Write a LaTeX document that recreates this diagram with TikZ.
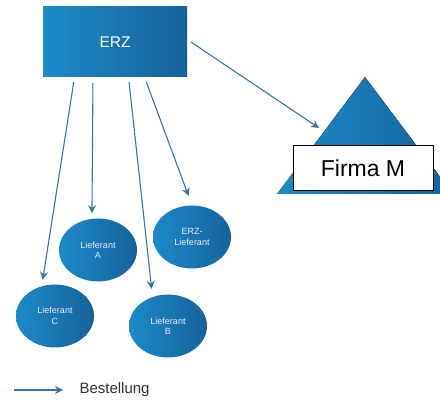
\documentclass[tikz,border=0pt]{standalone}
\usepackage{fontspec}
\setmainfont{Liberation Sans}
\usetikzlibrary{shapes.geometric,arrows.meta}
\definecolor{erzlight}{RGB}{28,138,200}
\definecolor{erzdark}{RGB}{22,98,155}
\definecolor{pfeil}{RGB}{52,118,170}
\definecolor{schrift}{RGB}{50,50,50}
\tikzset{
    blau/.style={left color=erzlight, right color=erzdark, draw=none},
    lieferant/.style={blau, ellipse, minimum width=78pt, minimum height=63pt,
        inner sep=0pt, align=center, text=white!92!blue,
        font=\fontsize{9}{10.5}\selectfont},
    bestellung/.style={draw=pfeil, line width=1.1pt,
        -{Stealth[length=8pt,width=8pt]}}
}
\begin{document}
\begin{tikzpicture}[x=1pt,y=-1pt]
            \useasboundingbox (0,0) rectangle (440,403);

            \node[blau, minimum width=144pt, minimum height=70pt, text=white,
                font=\fontsize{15.5}{18}\selectfont] (erz) at (115,42) {ERZ};

            \fill[blau] (277,194) -- (365,77) -- (453,194) -- cycle;
            \coordinate (dreieck) at (319,128);
            \node[draw=black, fill=white, line width=1pt, minimum width=140pt,
                minimum height=45pt, font=\fontsize{23}{26}\selectfont]
                (firma) at (363,168.5) {Firma M};

            \begin{scope}[every node/.style={lieferant}]
                \node (lfa) at (98,250) {Lieferant\\A};
                \node (lferz) at (192,237) {ERZ-\\Lieferant};
                \node (lfc) at (55,316) {Lieferant\\C};
                \node (lfb) at (168,326) {Lieferant\\B};
            \end{scope}

            \begin{scope}
                \path (erz.-139) edge[bestellung, shorten <=5pt, shorten >=6.5pt] (lfc.114);
                \path (erz.-122) edge[bestellung, shorten <=6pt, shorten >=5.5pt] (lfa.101);
                \path (erz.-69) edge[bestellung, shorten <=5pt, shorten >=8pt] (lfb.118);
                \path (erz.-50) edge[bestellung, shorten <=5pt, shorten >=10pt] (lferz.90);
                \path (erz.2) edge[bestellung, shorten <=4.5pt] (dreieck);
            \end{scope}

            \coordinate (legstart) at (14,390);
            \node[text=schrift, font=\fontsize{15}{18}\selectfont, anchor=west]
                (legende) at (76,390) {Bestellung};
            \draw[bestellung, shorten >=13pt] (legstart) -- (legende.west);
\end{tikzpicture}
\end{document}
